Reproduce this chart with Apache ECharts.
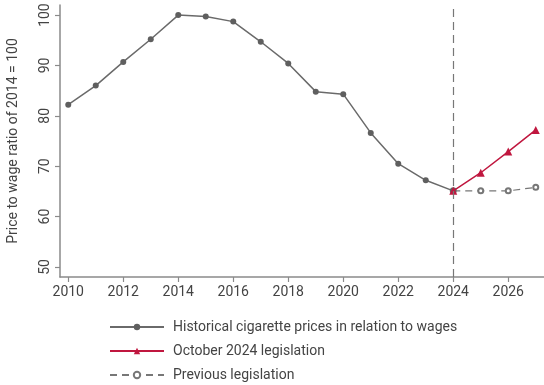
<!DOCTYPE html>
<html>
<head>
<meta charset="utf-8">
<script src="https://cdn.jsdelivr.net/npm/echarts@6/dist/echarts.min.js"></script>
<style>
  html, body { margin: 0; padding: 0; background: #fff; }
  #chart { width: 544px; height: 385px; }
</style>
</head>
<body>
<div id="chart"></div>
<script>
// Cigarette price-to-wage ratio, indexed so that 2014 = 100
const historicalYears = [2010, 2011, 2012, 2013, 2014, 2015, 2016, 2017, 2018, 2019, 2020, 2021, 2022, 2023, 2024];
const historicalValues = [82.2, 86.0, 90.7, 95.2, 100.0, 99.7, 98.7, 94.7, 90.4, 84.8, 84.3, 76.6, 70.5, 67.2, 65.1];

const newLawYears = [2024, 2025, 2026, 2027];
const newLawValues = [65.1, 68.7, 72.9, 77.2];

const oldLawYears = [2024, 2025, 2026, 2027];
const oldLawValues = [65.1, 65.1, 65.1, 65.8];

const xTicks = [2010, 2012, 2014, 2016, 2018, 2020, 2022, 2024, 2026];
const yTicks = [50, 60, 70, 80, 90, 100];

const seriesNames = [
  'Historical cigarette prices in relation to wages',
  'October 2024 legislation',
  'Previous legislation'
];
const yAxisTitle = 'Price to wage ratio of 2014 = 100';
const referenceYear = 2024;

const pair = (xs, ys) => xs.map((x, i) => [x, ys[i]]);

const font = 'Roboto, "Noto Sans", sans-serif';
const textColor = '#444';
const axisColor = '#8a8a8a';

const chart = echarts.init(document.getElementById('chart'), null, { renderer: 'canvas' });

chart.setOption({
  animation: false,
  textStyle: { fontFamily: font },
  grid: { left: 60, right: 0, top: 5, bottom: 108, containLabel: false, outerBoundsMode: 'none' },
  xAxis: {
    type: 'value',
    min: 2009.7,
    max: 2027.3,
    axisLine: { show: true, lineStyle: { color: axisColor, width: 1.5 } },
    axisTick: { show: true, customValues: xTicks, length: 5, lineStyle: { color: axisColor, width: 1.2 } },
    axisLabel: {
      customValues: xTicks,
      formatter: (v) => String(v),
      color: textColor, fontSize: 14, fontFamily: font, margin: 8
    },
    splitLine: { show: false }
  },
  yAxis: {
    type: 'value',
    min: 48,
    max: 102,
    name: yAxisTitle,
    nameLocation: 'middle',
    nameGap: 40,
    nameMoveOverlap: false,
    nameTextStyle: { color: textColor, fontSize: 14, fontFamily: font },
    axisLine: { show: true, lineStyle: { color: axisColor, width: 1.5 } },
    axisTick: { show: true, customValues: yTicks, length: 5, lineStyle: { color: axisColor, width: 1.2 } },
    axisLabel: { customValues: yTicks, color: textColor, fontSize: 14, fontFamily: font, rotate: 90, margin: 8 },
    splitLine: { show: false }
  },
  legend: {
    orient: 'vertical',
    left: 104,
    top: 315,
    height: 80,
    itemWidth: 54,
    itemHeight: 8,
    itemGap: 10,
    textStyle: { color: textColor, fontSize: 14, fontFamily: font, padding: [0, 0, 0, 4] },
    data: seriesNames
  },
  series: [
    {
      name: seriesNames[2],
      type: 'line',
      data: pair(oldLawYears, oldLawValues),
      z: 2,
      symbol: 'emptyCircle',
      symbolSize: 5,
      color: '#777',
      lineStyle: { color: '#777', width: 1.2, type: [7, 5] },
      itemStyle: { color: '#777', borderWidth: 1.2 }
    },
    {
      name: seriesNames[0],
      type: 'line',
      data: pair(historicalYears, historicalValues),
      z: 3,
      symbol: 'circle',
      symbolSize: 6,
      color: '#666',
      lineStyle: { color: '#6a6a6a', width: 1.5 },
      itemStyle: { color: '#5f5f5f' },
      markLine: {
        silent: true,
        symbol: 'none',
        label: { show: false },
        lineStyle: { color: '#777', width: 1.2, type: [8, 5] },
        data: [{ xAxis: referenceYear }]
      }
    },
    {
      name: seriesNames[1],
      type: 'line',
      data: pair(newLawYears, newLawValues),
      z: 4,
      symbol: 'triangle',
      symbolSize: 8,
      color: '#c0173f',
      lineStyle: { color: '#c0173f', width: 1.5 },
      itemStyle: { color: '#c0173f' }
    }
  ]
});
</script>
</body>
</html>
